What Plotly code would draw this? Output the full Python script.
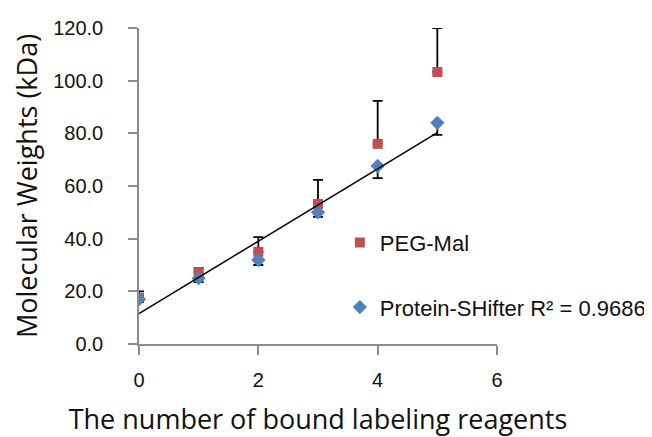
import numpy as np
import plotly.graph_objects as go

# ---- data ----
x_vals = [0, 1, 2, 3, 4, 5]
peg_mal = [17.5, 27.3, 35.0, 53.2, 76.0, 103.3]
peg_mal_err_plus = [2.5, 1.5, 5.6, 9.1, 16.3, 16.7]
shifter = [17.0, 25.0, 31.9, 50.0, 67.6, 84.0]
shifter_err_minus = [1.0, 1.5, 1.9, 1.7, 4.6, 4.6]
r2_label = "R² = 0.9686"
y_ticks = [0, 20, 40, 60, 80, 100, 120]
x_ticks = [0, 2, 4, 6]

RED = "#C0504D"
BLUE = "#4F81BD"

# linear trend line through Protein-SHifter points
slope, intercept = np.polyfit(x_vals, shifter, 1)
trend_x = [x_vals[0], x_vals[-1]]
trend_y = [intercept + slope * v for v in trend_x]

fig = go.Figure()
fig.add_trace(go.Scatter(
    x=x_vals, y=peg_mal, mode="markers", name="PEG-Mal",
    marker=dict(symbol="square", size=10, color=RED),
    error_y=dict(type="data", symmetric=False, array=peg_mal_err_plus,
                 arrayminus=[0] * len(x_vals), color="black", thickness=1.8, width=5),
    legendgroup="a",
))
fig.add_trace(go.Scatter(
    x=x_vals, y=shifter, mode="markers", name="Protein-SHifter " + r2_label,
    marker=dict(symbol="diamond", size=11, color=BLUE),
    error_y=dict(type="data", symmetric=False, array=[0] * len(x_vals),
                 arrayminus=shifter_err_minus, color="black", thickness=1.8, width=5),
    legendgroup="b",
))
fig.add_trace(go.Scatter(
    x=trend_x, y=trend_y, mode="lines", showlegend=False,
    line=dict(color="black", width=1.5),
))

axis_common = dict(
    showgrid=False, zeroline=False, showline=True, linecolor="#8c8c8c", linewidth=1.5,
    ticks="outside", ticklen=9, tickcolor="#8c8c8c", tickwidth=1.5,
    tickfont=dict(family="Liberation Sans, Arial", size=20, color="#111111"),
    automargin=False,
)

fig.update_layout(
    width=644, height=429,
    margin=dict(l=131, r=155, t=20, b=93, autoexpand=False),
    paper_bgcolor="white", plot_bgcolor="white",
    xaxis=dict(range=[0, 6], tickvals=x_ticks, ticklabelstandoff=8,
               title=dict(text="The number of bound labeling reagents",
                          font=dict(family="Open Sans", size=27, color="#111111"),
                          standoff=22),
               **axis_common),
    yaxis=dict(range=[0, 120], tickvals=y_ticks, tickformat=".1f", ticklabelstandoff=21,
               title=dict(text="Molecular Weights (kDa)",
                          font=dict(family="Open Sans", size=27, color="#111111"),
                          standoff=9),
               **axis_common),
    showlegend=True,
    legend=dict(x=0.561, y=0.387, xanchor="left", yanchor="top",
                bgcolor="rgba(0,0,0,0)", tracegroupgap=33, itemwidth=30,
                font=dict(family="Liberation Sans, Arial", size=22, color="#111111")),
)

fig.write_html("out.html")
